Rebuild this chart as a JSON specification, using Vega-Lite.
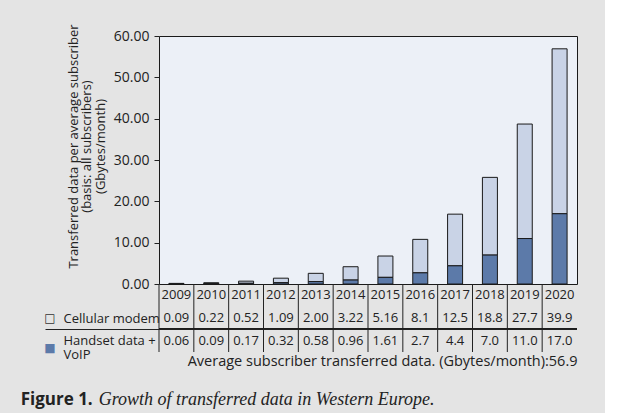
{
  "$schema": "https://vega.github.io/schema/vega-lite/v6.json",
  "background": "#e4e4e4",
  "padding": {"left": 20, "top": 23, "right": 27, "bottom": 4},
  "config": {
    "font": "Open Sans",
    "view": {"stroke": null},
    "axis": {"labelFont": "Open Sans", "titleFont": "Open Sans", "labelColor": "#222", "titleColor": "#222"}
  },
  "datasets": {
    "d": [
      {"year": "2009", "series": "Cellular modem", "value": 0.09, "text": "0.09"},
      {"year": "2010", "series": "Cellular modem", "value": 0.22, "text": "0.22"},
      {"year": "2011", "series": "Cellular modem", "value": 0.52, "text": "0.52"},
      {"year": "2012", "series": "Cellular modem", "value": 1.09, "text": "1.09"},
      {"year": "2013", "series": "Cellular modem", "value": 2.00, "text": "2.00"},
      {"year": "2014", "series": "Cellular modem", "value": 3.22, "text": "3.22"},
      {"year": "2015", "series": "Cellular modem", "value": 5.16, "text": "5.16"},
      {"year": "2016", "series": "Cellular modem", "value": 8.1, "text": "8.1"},
      {"year": "2017", "series": "Cellular modem", "value": 12.5, "text": "12.5"},
      {"year": "2018", "series": "Cellular modem", "value": 18.8, "text": "18.8"},
      {"year": "2019", "series": "Cellular modem", "value": 27.7, "text": "27.7"},
      {"year": "2020", "series": "Cellular modem", "value": 39.9, "text": "39.9"},
      {"year": "2009", "series": "Handset data + VoIP", "value": 0.06, "text": "0.06"},
      {"year": "2010", "series": "Handset data + VoIP", "value": 0.09, "text": "0.09"},
      {"year": "2011", "series": "Handset data + VoIP", "value": 0.17, "text": "0.17"},
      {"year": "2012", "series": "Handset data + VoIP", "value": 0.32, "text": "0.32"},
      {"year": "2013", "series": "Handset data + VoIP", "value": 0.58, "text": "0.58"},
      {"year": "2014", "series": "Handset data + VoIP", "value": 0.96, "text": "0.96"},
      {"year": "2015", "series": "Handset data + VoIP", "value": 1.61, "text": "1.61"},
      {"year": "2016", "series": "Handset data + VoIP", "value": 2.7, "text": "2.7"},
      {"year": "2017", "series": "Handset data + VoIP", "value": 4.4, "text": "4.4"},
      {"year": "2018", "series": "Handset data + VoIP", "value": 7.0, "text": "7.0"},
      {"year": "2019", "series": "Handset data + VoIP", "value": 11.0, "text": "11.0"},
      {"year": "2020", "series": "Handset data + VoIP", "value": 17.0, "text": "17.0"}
    ]
  },
  "title": {"text": "Figure 1.", "orient": "bottom", "anchor": "start", "font": "Open Sans", "fontSize": 17, "fontWeight": "bold", "color": "#222", "dx": -23, "offset": -4, "baseline": "alphabetic"},
  "vconcat": [
    {
      "title": {"text": "Growth of transferred data in Western Europe.", "orient": "bottom", "anchor": "start", "font": "Liberation Serif", "fontStyle": "italic", "fontSize": 18, "fontWeight": "normal", "color": "#222", "dx": 55, "offset": 37, "baseline": "alphabetic"},
      "bounds": "flush",
      "spacing": 0,
      "vconcat": [
        {
          "width": 418,
          "height": 248,
          "data": {"name": "d"},
          "view": {"fill": "#ecf0f7", "stroke": "#1a1a1a", "strokeWidth": 1},
          "mark": {"type": "bar", "width": 15, "stroke": "#1a1a1a", "strokeWidth": 1},
          "encoding": {
            "x": {"field": "year", "type": "ordinal", "axis": null, "scale": {"type": "band", "paddingInner": 0, "paddingOuter": 0}},
            "y": {
              "field": "value", "type": "quantitative", "stack": "zero",
              "scale": {"domain": [0, 60], "nice": false},
              "axis": {
                "values": [0, 10, 20, 30, 40, 50, 60], "format": ".2f", "domain": false, "grid": false,
                "tickSize": 5, "tickColor": "#222", "labelFontSize": 14, "labelPadding": 5,
                "title": ["Transferred data per average subscriber", "(basis: all subscribers)", "(Gbytes/month)"],
                "titleFontSize": 13, "titleFontWeight": "normal", "titlePadding": 6, "titleLineHeight": 13.5, "titleY": 110
              }
            },
            "color": {"field": "series", "type": "nominal", "scale": {"domain": ["Cellular modem", "Handset data + VoIP"], "range": ["#c9d3e6", "#5c7aa9"]}, "legend": null},
            "order": {"field": "series", "sort": "descending"}
          }
        },
        {
          "width": 418,
          "height": 68,
          "data": {"name": "d"},
          "resolve": {"axis": {"y": "independent"}},
          "layer": [
            {
              "transform": [{"filter": "datum.series === 'Cellular modem'"}],
              "mark": {"type": "rule", "color": "#222", "strokeWidth": 1},
              "encoding": {
                "x": {"field": "year", "type": "ordinal", "bandPosition": 0, "scale": {"type": "band", "paddingInner": 0, "paddingOuter": 0},
                  "axis": {"title": "Average subscriber transferred data. (Gbytes/month):56.9", "titleAnchor": "end", "titleFontSize": 14.5, "titleFontWeight": "normal", "titlePadding": 2, "titleBaseline": "top", "labels": false, "ticks": false, "domain": false}}
              }
            },
            {
              "transform": [{"filter": "datum.series === 'Cellular modem'"}],
              "mark": {"type": "text", "font": "Open Sans", "fontSize": 13, "color": "#222"},
              "encoding": {
                "x": {"field": "year", "type": "ordinal", "scale": {"type": "band", "paddingInner": 0, "paddingOuter": 0},
                  "axis": {"title": "Average subscriber transferred data. (Gbytes/month):56.9", "titleAnchor": "end", "titleFontSize": 14.5, "titleFontWeight": "normal", "titlePadding": 2, "titleBaseline": "top", "labels": false, "ticks": false, "domain": false}},
                "y": {"datum": "year", "type": "nominal", "axis": null},
                "text": {"field": "year"}
              }
            },
            {
              "mark": {"type": "text", "font": "Open Sans", "fontSize": 13, "color": "#222"},
              "encoding": {
                "x": {"field": "year", "type": "ordinal", "scale": {"type": "band", "paddingInner": 0, "paddingOuter": 0},
                  "axis": {"title": "Average subscriber transferred data. (Gbytes/month):56.9", "titleAnchor": "end", "titleFontSize": 14.5, "titleFontWeight": "normal", "titlePadding": 2, "titleBaseline": "top", "labels": false, "ticks": false, "domain": false}},
                "y": {
                  "field": "series", "type": "nominal",
                  "scale": {"type": "band", "domain": ["year", "Cellular modem", "Handset data + VoIP"], "paddingInner": 0, "paddingOuter": 0},
                  "axis": {
                    "orient": "left", "title": null, "domain": false, "grid": false,
                    "tickBand": "extent", "tickSize": 114, "tickWidth": 1,
                    "tickColor": {"condition": {"test": "datum.value === 'Cellular modem'", "value": "#222"}, "value": "transparent"},
                    "labelPadding": -18, "labelFontSize": 13, "labelAlign": "left", "labelBaseline": "middle", "labelLineHeight": 14,
                    "labelExpr": "datum.value === 'Cellular modem' ? 'Cellular modem' : datum.value === 'Handset data + VoIP' ? ['Handset data +', 'VoIP'] : ''"
                  }
                },
                "text": {"field": "text"}
              }
            },
            {
              "mark": {"type": "rule", "color": "#222", "strokeWidth": 1},
              "encoding": {
                "y": {"datum": "Handset data + VoIP", "type": "nominal", "bandPosition": 0, "axis": null}
              }
            },
            {
              "mark": {"type": "text", "opacity": 0},
              "encoding": {
                "y": {
                  "field": "series", "type": "nominal",
                  "axis": {
                    "orient": "left", "title": null, "domain": false, "ticks": false, "grid": false,
                    "labelPadding": 104, "labelFont": "DejaVu Sans", "labelFontSize": 12, "labelAlign": "right", "labelBaseline": "middle",
                    "labelColor": {"condition": {"test": "datum.value === 'Handset data + VoIP'", "value": "#5c7aa9"}, "value": "#333"},
                    "labelOffset": {"condition": {"test": "datum.value === 'Handset data + VoIP'", "value": 7}, "value": 0},
                    "labelExpr": "datum.value === 'Cellular modem' ? '□' : datum.value === 'Handset data + VoIP' ? '■' : ''"
                  }
                },
                "text": {"value": ""}
              }
            }
          ]
        }
      ]
    }
  ]
}
